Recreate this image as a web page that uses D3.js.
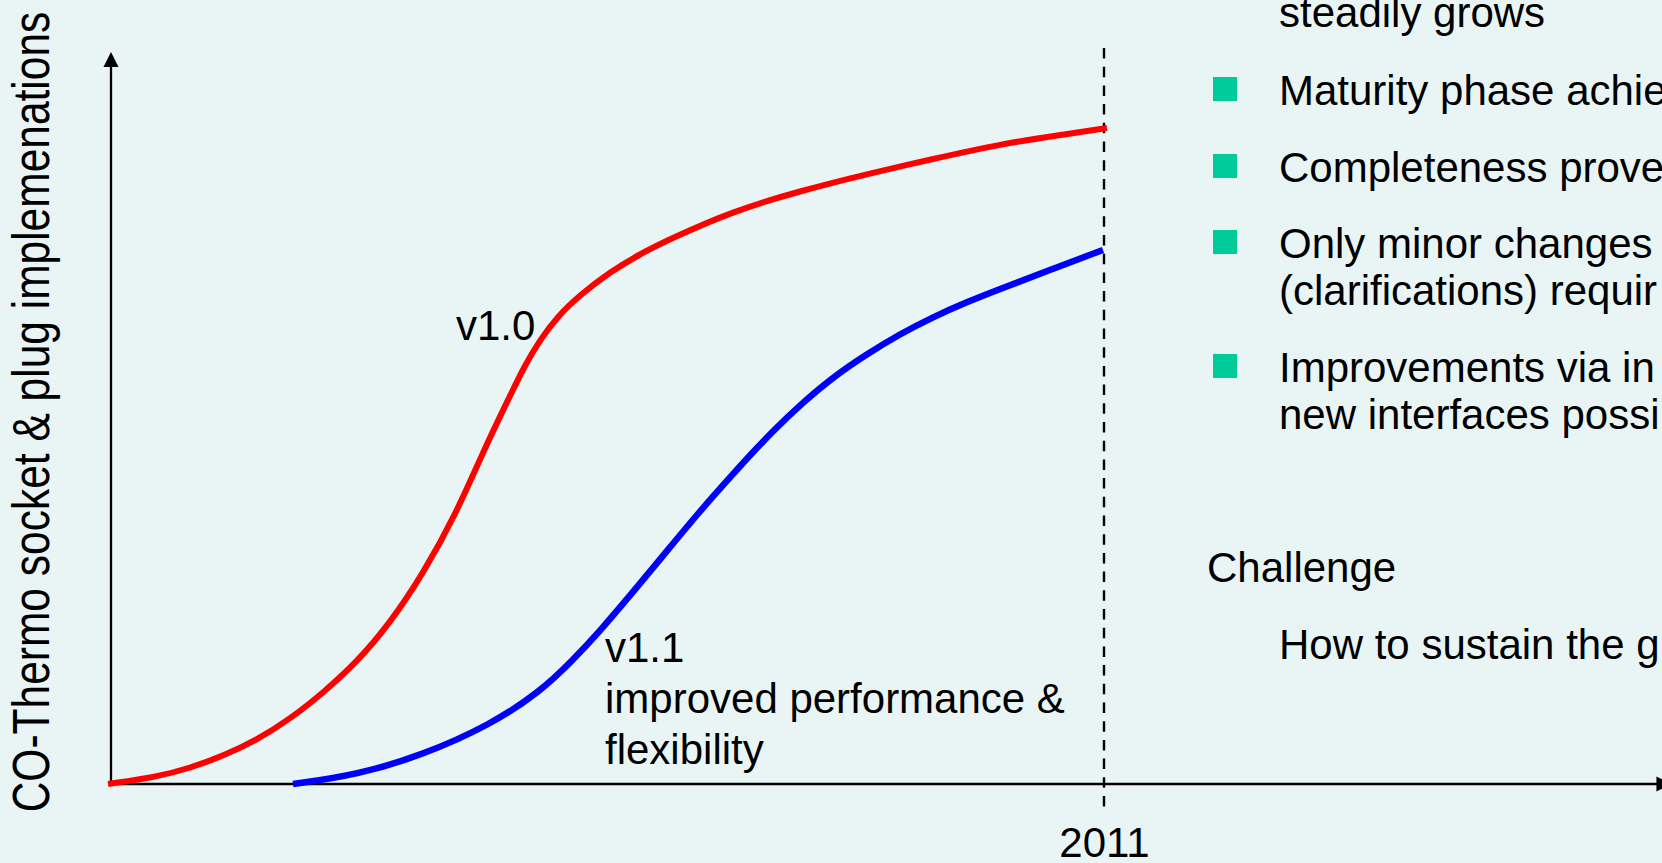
<!DOCTYPE html>
<html><head><meta charset="utf-8">
<script src="https://cdn.jsdelivr.net/npm/d3@7"></script>
<style>
html,body{margin:0;padding:0;background:#e9f5f5;overflow:hidden}
svg{display:block}
text{font-family:"Liberation Sans",Arial,Helvetica,sans-serif;fill:#000}
</style></head><body>
<svg id="chart" width="1662" height="863"></svg>
<script>
// ---- data ----
const v10Time  = [2003.979,2004.324,2004.557,2004.790,2005.029,2005.262,2005.494,2005.734,2005.967,2006.199,2006.439,2006.622,2006.792,2006.918,2007.024,2007.144,2007.306,2007.518,2007.729,2007.941,2008.385,2008.857,2009.329,2009.795,2010.267,2010.739,2011.021];
const v10Value = [0,0.956,2.186,3.825,6.011,8.880,12.432,16.667,21.995,28.689,37.158,45.355,52.186,57.240,60.656,63.798,66.803,69.945,72.404,74.454,78.279,81.011,83.333,85.383,87.432,88.798,89.617];
const v11Time  = [2005.283,2005.734,2006.199,2006.672,2007.024,2007.257,2007.447,2007.680,2007.919,2008.152,2008.385,2008.519,2008.681,2008.857,2009.090,2009.329,2009.562,2009.795,2010.034,2010.267,2010.619,2010.993];
const v11Value = [0,1.230,3.962,8.060,12.568,16.940,20.902,26.230,31.831,37.295,42.350,45.219,48.497,51.776,55.601,58.743,61.475,63.798,65.847,67.623,70.219,72.951];
const xTicks = [2011];
const yAxisLabel = "CO-Thermo socket & plug implemenations";
const v10Label = ["v1.0"];
const v11Label = ["v1.1","improved performance &","flexibility"];
const topLine = "steadily grows";
const bulletItems = [
  ["Maturity phase achie"],
  ["Completeness prove"],
  ["Only minor changes","(clarifications) requir"],
  ["Improvements via in","new interfaces possi"]
];
const challengeTitle = "Challenge";
const challengeText = "How to sustain the g";

// ---- layout ----
const svg = d3.select("#chart");
const FS = 42;
const x = d3.scaleLinear().domain([2004, 2011]).range([111, 1104]);
const y = d3.scaleLinear().domain([0, 100]).range([784, 52]);
const xEnd = 2015;

const series = [
  {name:"v1.0", color:"#ff0000", width:6, pts:v10Time.map((t,i)=>({t, v:v10Value[i]}))},
  {name:"v1.1", color:"#0000ff", width:6.5, pts:v11Time.map((t,i)=>({t, v:v11Value[i]}))}
];

// axes lines with arrowheads
const ax = svg.append("g");
ax.append("line").attr("x1", x(2004)).attr("x2", x(2004)).attr("y1", y(0)+1).attr("y2", y(100)+10)
  .attr("stroke","#000").attr("stroke-width",2.3);
ax.append("path").attr("d", `M${x(2004)},${y(100)} L${x(2004)-7.5},${y(100)+15} L${x(2004)+7.5},${y(100)+15} Z`).attr("fill","#000");
ax.append("line").attr("x1", x(2004)-1).attr("x2", x(xEnd)-10).attr("y1", y(0)).attr("y2", y(0))
  .attr("stroke","#000").attr("stroke-width",2.3);
ax.append("path").attr("d", `M${x(xEnd)},${y(0)} L${x(xEnd)-15},${y(0)-7.5} L${x(xEnd)-15},${y(0)+7.5} Z`).attr("fill","#000");

// tick label via d3 axis
const xAxis = d3.axisBottom(x).tickValues(xTicks).tickFormat(d3.format("d")).tickSize(0).tickPadding(43);
const gx = svg.append("g").attr("transform", `translate(0,${y(0)})`).call(xAxis);
gx.select(".domain").remove();
gx.selectAll("text").attr("font-size", FS).attr("font-family", '"Liberation Sans",Arial,sans-serif').attr("fill","#000");

// dashed reference line
svg.append("line").attr("x1", x(xTicks[0])).attr("x2", x(xTicks[0]))
  .attr("y1", y(100)-4).attr("y2", y(0)+24)
  .attr("stroke","#000").attr("stroke-width",2.4).attr("stroke-dasharray","10.5,8.2");

// curves
const line = d3.line().x(d=>x(d.t)).y(d=>y(d.v)).curve(d3.curveBasis);
svg.selectAll("path.series").data(series).enter().append("path")
  .attr("class","series").attr("d", d=>line(d.pts))
  .attr("fill","none").attr("stroke", d=>d.color).attr("stroke-width", d=>d.width);

// curve labels
svg.append("text").attr("x", 456).attr("y", 340).attr("font-size", FS).text(v10Label[0]);
v11Label.forEach((s,i)=>{
  svg.append("text").attr("x", 605).attr("y", 662 + i*51).attr("font-size", FS).text(s);
});

// y axis label (slightly tall glyphs)
svg.append("text").attr("transform","translate(49,412) rotate(-90) scale(1,1.2)")
  .attr("text-anchor","middle").attr("font-size", 42.5).text(yAxisLabel);

// right panel
const tx = 1279;
svg.append("text").attr("x", tx).attr("y", 27).attr("font-size", FS).text(topLine);
const bulletBase = [105, 182, 258, 382];
bulletItems.forEach((lines, i)=>{
  svg.append("rect").attr("x", 1213).attr("y", bulletBase[i]-28).attr("width", 24).attr("height", 24).attr("fill", "#00cc99");
  lines.forEach((s, j)=>{
    svg.append("text").attr("x", tx).attr("y", bulletBase[i] + j*47).attr("font-size", FS).text(s);
  });
});
svg.append("text").attr("x", 1207).attr("y", 582).attr("font-size", FS).text(challengeTitle);
svg.append("text").attr("x", tx).attr("y", 659).attr("font-size", FS).text(challengeText);
</script>
</body></html>
